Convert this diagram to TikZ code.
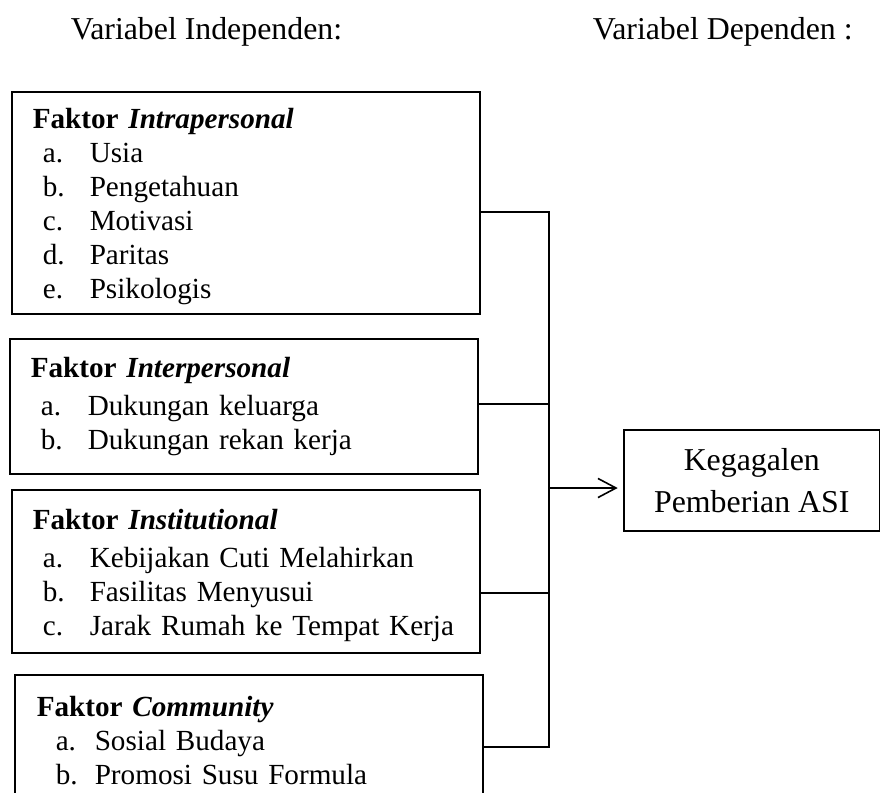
\documentclass[tikz,border=0pt]{standalone}
\usepackage{fontspec}
\setmainfont{Liberation Serif}
\usetikzlibrary{arrows.meta,positioning}
\newdimen\pxu \pxu=0.377pt
\NewDocumentCommand{\itm}{O{10} O{57} m m}{\hspace*{#1\pxu}\makebox[\dimexpr#2\pxu-#1\pxu\relax][l]{#3}#4}
\begin{document}
\begin{tikzpicture}[x=\pxu,y=-\pxu,line width=0.6pt,
  font=\fontsize{12pt}{13.8pt}\selectfont,
  box/.style={draw,rectangle,anchor=north west,text width=426\pxu,inner xsep=21\pxu,align=left,
    font=\fontsize{11pt}{12.8pt}\selectfont}]
\useasboundingbox (0,0) rectangle (880,792);
% judul
\node[anchor=base west,inner sep=0pt] (indep) at (70,39) {Variabel Independen:};
\node[anchor=base west,inner sep=0pt] (depvar) at (592,39) {Variabel Dependen :};
% faktor-faktor
\node[box,minimum height=222\pxu] (intra) at (11,91) {\rule{0pt}{28\pxu}\textbf{Faktor \textit{Intrapersonal}}\\
  \itm{a.}{Usia}\\ \itm{b.}{Pengetahuan}\\ \itm{c.}{Motivasi}\\ \itm{d.}{Paritas}\\ \itm{e.}{Psikologis}};
\node[box,minimum height=135\pxu] (inter) at (9,338) {\textbf{Faktor \textit{Interpersonal}}\\[1.5pt]
  \itm{a.}{Dukungan keluarga}\\ \itm{b.}{Dukungan rekan kerja}};
\node[box,minimum height=163\pxu] (inst) at (11,489) {\rule{0pt}{28\pxu}\textbf{Faktor \textit{Institutional}}\\[1.5pt]
  \itm{a.}{Kebijakan Cuti Melahirkan}\\ \itm{b.}{Fasilitas Menyusui}\\ \itm{c.}{Jarak Rumah ke Tempat Kerja}};
\node[box,minimum height=132\pxu,inner xsep=22\pxu,text width=424\pxu] (comm) at (14,674) {\textbf{Faktor \textit{Community}}\\
  \itm[19][58]{a.}{Sosial Budaya}\\ \itm[19][58]{b.}{Promosi Susu Formula}};
% variabel dependen
\node[draw,anchor=north west,minimum width=256\pxu,minimum height=101\pxu,align=center] (dep) at (623,429) {Kegagalen\\[2pt]Pemberian ASI};
% garis penghubung
\coordinate (j1) at (549,212);
\coordinate (j2) at (549,404);
\coordinate (j3) at (549,593);
\coordinate (j4) at (549,747);
\coordinate (ja) at (549,488);
\draw (intra.east |- j1) -- (j1) -- (j4) -- (comm.east |- j4);
\draw (inter.east |- j2) -- (j2);
\draw (inst.east |- j3) -- (j3);
\draw[-{Straight Barb[length=6.8pt,width=7.2pt]},shorten >=2pt] (ja) -- (dep.west |- ja);
\end{tikzpicture}
\end{document}
